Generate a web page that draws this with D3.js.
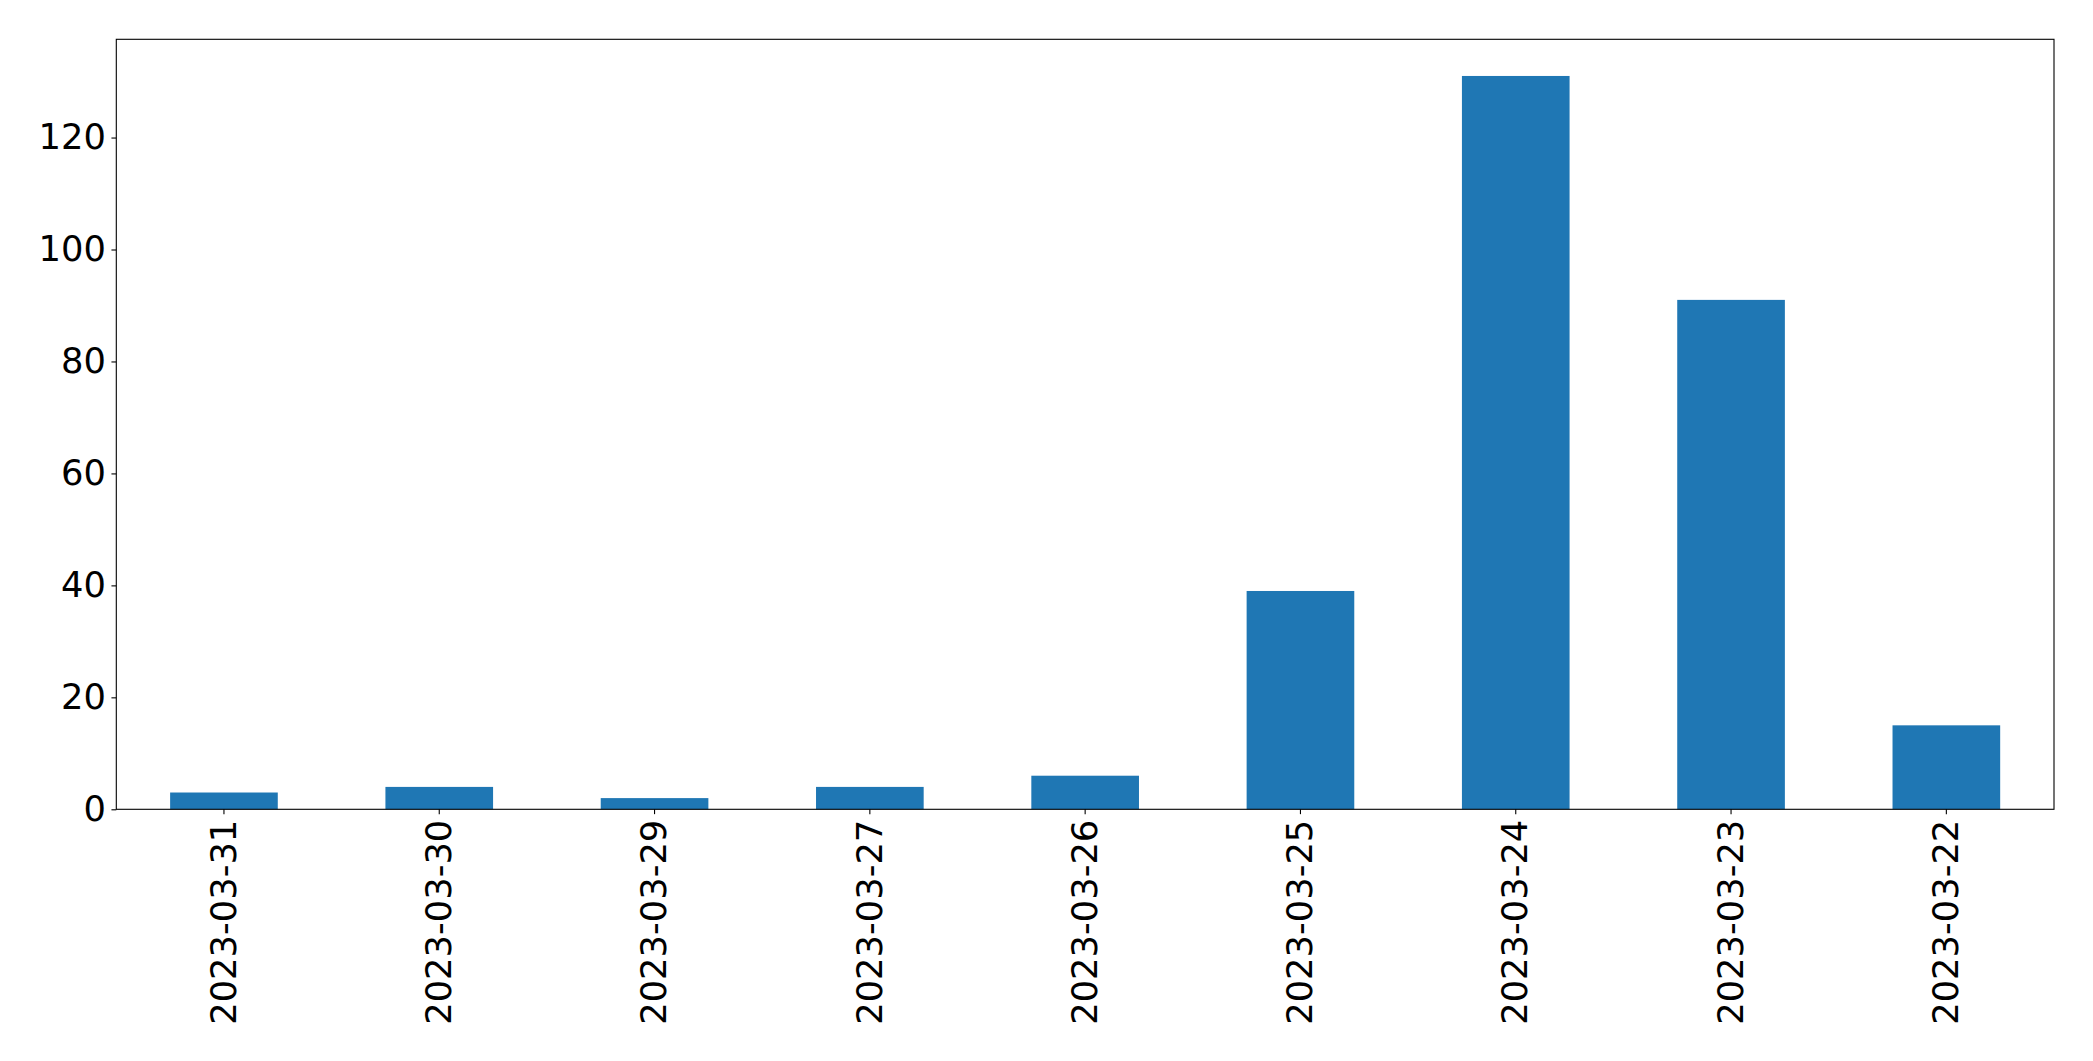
<!DOCTYPE html>
<html>
<head>
<meta charset="utf-8">
<script src="https://cdn.jsdelivr.net/npm/d3@7"></script>
<style>
  html, body { margin: 0; padding: 0; background: #fff; }
  svg { display: block; }
  text { font-family: "DejaVu Sans", sans-serif; }
</style>
</head>
<body>
<svg id="chart" width="2093" height="1061"></svg>
<script>
const categories = ["2023-03-31","2023-03-30","2023-03-29","2023-03-27","2023-03-26","2023-03-25","2023-03-24","2023-03-23","2023-03-22"];
const values = [3, 4, 2, 4, 6, 39, 131, 91, 15];
const yTicks = [0, 20, 40, 60, 80, 100, 120];

const W = 2093, H = 1061;
const margin = { left: 116.3, right: W - 2054, top: 39.3, bottom: H - 809.3 };
const iw = W - margin.left - margin.right;
const ih = H - margin.top - margin.bottom;

const svg = d3.select("#chart");
const g = svg.append("g").attr("transform", `translate(${margin.left},${margin.top})`);

const x = d3.scaleBand().domain(categories).range([0, iw]).paddingInner(0.5).paddingOuter(0.25);
const y = d3.scaleLinear().domain([0, d3.max(values) * 1.05]).range([ih, 0]);

g.selectAll("rect.bar").data(values).join("rect")
  .attr("class", "bar")
  .attr("x", (d, i) => x(categories[i]))
  .attr("width", x.bandwidth())
  .attr("y", d => y(d))
  .attr("height", d => y(0) - y(d))
  .attr("fill", "#1f77b4");

const tickLen = 4.86, pad = 5.5, fs = 35.3;

const yAxis = g.append("g").call(d3.axisLeft(y).tickValues(yTicks).tickSize(tickLen).tickPadding(pad).tickFormat(d3.format("d")));
yAxis.select(".domain").remove();
yAxis.selectAll("line").attr("stroke", "#000").attr("stroke-width", 1.1);
yAxis.selectAll("text").attr("font-size", fs).attr("fill", "#000").attr("font-family", "DejaVu Sans");

const xAxis = g.append("g").attr("transform", `translate(0,${ih})`)
  .call(d3.axisBottom(x).tickSize(tickLen).tickPadding(pad));
xAxis.select(".domain").remove();
xAxis.selectAll("line").attr("stroke", "#000").attr("stroke-width", 1.1);
xAxis.selectAll("text")
  .attr("font-size", fs).attr("fill", "#000").attr("font-family", "DejaVu Sans")
  .attr("text-anchor", "end")
  .attr("dy", "0.33em")
  .attr("y", 0)
  .attr("transform", `translate(0,${tickLen + pad}) rotate(-90)`);

g.append("rect").attr("x", 0).attr("y", 0).attr("width", iw).attr("height", ih)
  .attr("fill", "none").attr("stroke", "#000").attr("stroke-width", 1.1);
</script>
</body>
</html>
